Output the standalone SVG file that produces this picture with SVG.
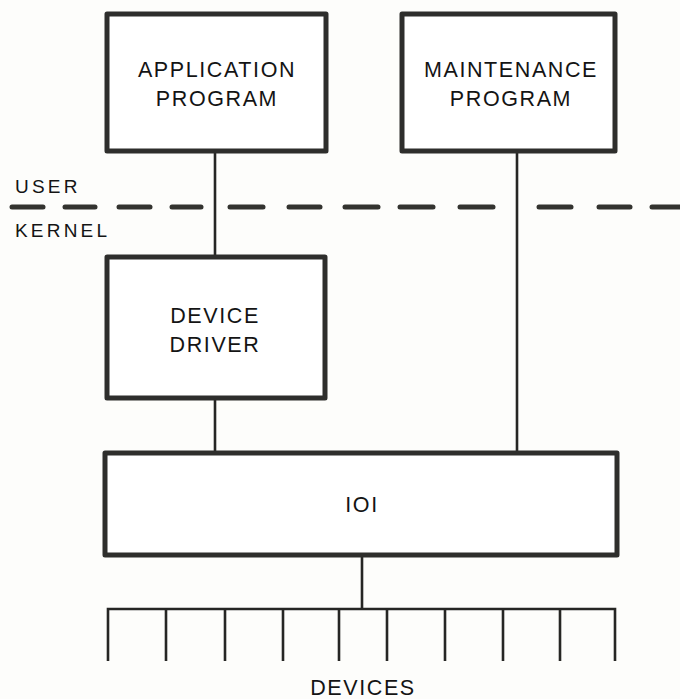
<svg xmlns="http://www.w3.org/2000/svg" width="680" height="699" viewBox="0 0 680 699">
  <style>
    .box { fill: #ffffff; stroke: #2e2e2c; stroke-width: 5; stroke-linejoin: round; }
    .wire { fill: none; stroke: #262624; stroke-width: 2.6; stroke-linecap: butt; }
    .dash { fill: none; stroke: #33332f; stroke-width: 5; stroke-linecap: round; }
    .label { font-family: "Liberation Sans", Arial, Helvetica, sans-serif; font-size: 21.5px; fill: #141414; letter-spacing: 1.6px; text-anchor: middle; }
    .side { font-family: "Liberation Sans", Arial, Helvetica, sans-serif; font-size: 19px; fill: #141414; letter-spacing: 3.2px; }
  </style>
  <rect x="0" y="0" width="680" height="699" fill="#fdfdfb"/>

  <!-- user / kernel boundary -->
  <g id="boundary">
    <g class="dash">
      <line x1="12" y1="207" x2="43" y2="207"/>
      <line x1="65" y1="207" x2="95" y2="207"/>
      <line x1="119" y1="207" x2="150" y2="207"/>
      <line x1="172" y1="207" x2="201" y2="207"/>
      <line x1="230" y1="207" x2="263" y2="207"/>
      <line x1="289" y1="207" x2="320" y2="207"/>
      <line x1="345" y1="207" x2="378" y2="207"/>
      <line x1="400" y1="207" x2="433" y2="207"/>
      <line x1="460" y1="207" x2="493" y2="207"/>
      <line x1="539" y1="207" x2="571" y2="207"/>
      <line x1="599" y1="207" x2="630" y2="207"/>
      <line x1="652" y1="207" x2="684" y2="207"/>
    </g>
    <text class="side" x="15" y="193">USER</text>
    <text class="side" x="15" y="237">KERNEL</text>
  </g>

  <!-- connectors -->
  <g id="connectors" class="wire">
    <line x1="215" y1="152" x2="215" y2="256"/>
    <line x1="215" y1="399" x2="215" y2="452"/>
    <line x1="517" y1="152" x2="517" y2="452"/>
    <line x1="362" y1="556" x2="362" y2="609"/>
    <!-- device bus -->
    <polyline points="108,661 108,609 615,609 615,661"/>
    <line x1="166" y1="609" x2="166" y2="661"/>
    <line x1="225" y1="609" x2="225" y2="661"/>
    <line x1="283" y1="609" x2="283" y2="661"/>
    <line x1="339" y1="609" x2="339" y2="661"/>
    <line x1="387" y1="609" x2="387" y2="661"/>
    <line x1="445" y1="609" x2="445" y2="661"/>
    <line x1="503" y1="609" x2="503" y2="661"/>
    <line x1="560" y1="609" x2="560" y2="661"/>
  </g>

  <g id="application-program">
    <rect class="box" x="107" y="14" width="219" height="137"/>
    <text class="label" x="217" y="77">APPLICATION</text>
    <text class="label" x="217" y="106">PROGRAM</text>
  </g>

  <g id="maintenance-program">
    <rect class="box" x="402" y="14" width="213" height="137"/>
    <text class="label" x="511" y="77">MAINTENANCE</text>
    <text class="label" x="511" y="106">PROGRAM</text>
  </g>

  <g id="device-driver">
    <rect class="box" x="107" y="257" width="218" height="141"/>
    <text class="label" x="215" y="323">DEVICE</text>
    <text class="label" x="215" y="352">DRIVER</text>
  </g>

  <g id="ioi">
    <rect class="box" x="105" y="453" width="512" height="102"/>
    <text class="label" x="362" y="512">IOI</text>
  </g>

  <g id="devices">
    <text class="label" x="363" y="695">DEVICES</text>
  </g>
</svg>
